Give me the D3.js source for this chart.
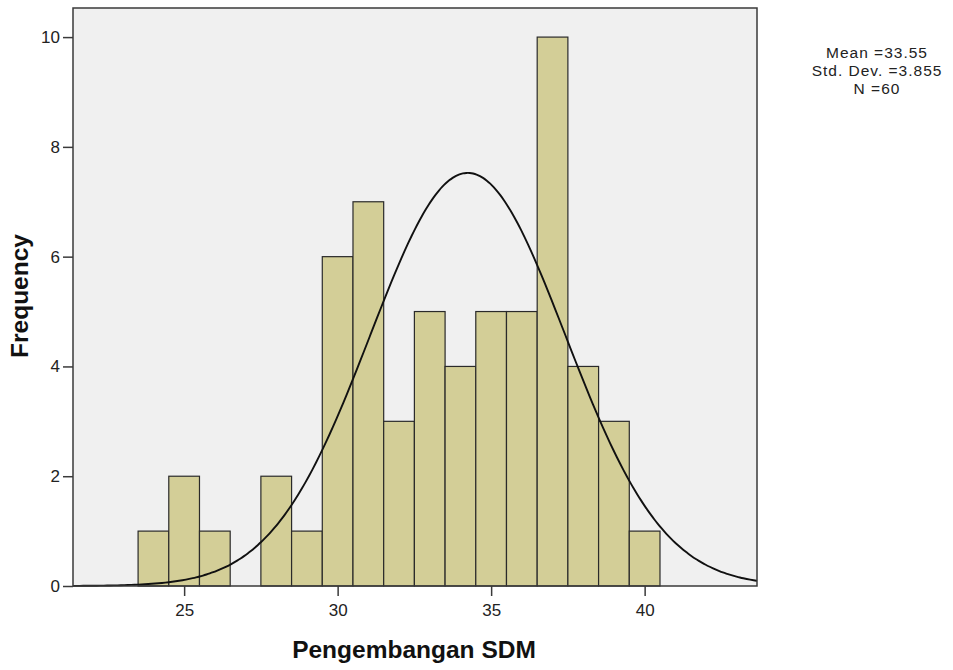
<!DOCTYPE html>
<html>
<head>
<meta charset="UTF-8" />
<script src="https://d3js.org/d3.v7.min.js"></script>
<style>
  body { margin: 0; background: #fff; }
  svg { font-family: "Liberation Sans", Arial, sans-serif; }
</style>
</head>
<body>
<svg width="953" height="670"></svg>
<script>
// histogram bins (bin centres) and frequencies
const binCenters = [24, 25, 26, 27, 28, 29, 30, 31, 32, 33, 34, 35, 36, 37, 38, 39, 40];
const frequencies = [1, 2, 1, 0, 2, 1, 6, 7, 3, 5, 4, 5, 5, 10, 4, 3, 1];
const xTicks = [25, 30, 35, 40];
const yTicks = [0, 2, 4, 6, 8, 10];
const statsLines = ["Mean =33.55", "Std. Dev. =3.855", "N =60"];
// normal curve as drawn in the picture
const curveN = 60, curveMean = 34.24, curveSd = 3.18, binWidth = 1;

const svg = d3.select("svg");
const plotL = 73, plotR = 757, plotT = 8, plotB = 586;

const x = d3.scaleLinear().domain([21.38, 43.66]).range([plotL, plotR]);
const y = d3.scaleLinear().domain([0, 10.53]).range([plotB, plotT]);

// plot background
svg.append("rect")
  .attr("x", plotL).attr("y", plotT)
  .attr("width", plotR - plotL).attr("height", plotB - plotT)
  .attr("fill", "#f0f0f0");

// bars
svg.selectAll(".bar")
  .data(binCenters.map((c, i) => ({ c, f: frequencies[i] })).filter(d => d.f > 0))
  .join("rect")
  .attr("class", "bar")
  .attr("x", d => x(d.c - binWidth / 2))
  .attr("width", d => x(d.c + binWidth / 2) - x(d.c - binWidth / 2))
  .attr("y", d => y(d.f))
  .attr("height", d => y(0) - y(d.f))
  .attr("fill", "#d3ce97")
  .attr("stroke", "#2a2a2a")
  .attr("stroke-width", 1.2);

// normal curve
const xs = d3.range(201).map(i => 21.38 + i * (43.66 - 21.38) / 200);
const dens = v => curveN * binWidth / (curveSd * Math.sqrt(2 * Math.PI)) *
  Math.exp(-0.5 * Math.pow((v - curveMean) / curveSd, 2));
svg.append("path")
  .datum(xs)
  .attr("fill", "none")
  .attr("stroke", "#111")
  .attr("stroke-width", 1.9)
  .attr("d", d3.line().x(v => x(v)).y(v => y(dens(v))).curve(d3.curveBasis));

// frame
svg.append("rect")
  .attr("x", plotL).attr("y", plotT)
  .attr("width", plotR - plotL).attr("height", plotB - plotT)
  .attr("fill", "none")
  .attr("stroke", "#3a3a3a")
  .attr("stroke-width", 1.5);

// axes
const xAxis = svg.append("g")
  .attr("transform", `translate(0,${plotB})`)
  .call(d3.axisBottom(x).tickValues(xTicks).tickSize(10).tickPadding(8));
const yAxis = svg.append("g")
  .attr("transform", `translate(${plotL},0)`)
  .call(d3.axisLeft(y).tickValues(yTicks).tickSize(10).tickPadding(3));
[xAxis, yAxis].forEach(g => {
  g.select(".domain").remove();
  g.selectAll(".tick line").attr("stroke", "#3a3a3a").attr("stroke-width", 1.5);
  g.selectAll(".tick text")
    .attr("fill", "#222")
    .style("font-size", "17px")
    .style("font-family", "'Liberation Sans', Arial, sans-serif");
});

// axis titles
svg.append("text")
  .attr("x", 414).attr("y", 658)
  .attr("text-anchor", "middle")
  .style("font-size", "24.5px").style("font-weight", "bold")
  .attr("fill", "#111")
  .text("Pengembangan SDM");
svg.append("text")
  .attr("transform", "translate(28,296) rotate(-90)")
  .attr("text-anchor", "middle")
  .style("font-size", "24.5px").style("font-weight", "bold")
  .attr("fill", "#111")
  .text("Frequency");

// stats box
svg.append("g")
  .selectAll("text")
  .data(statsLines)
  .join("text")
  .attr("x", 877)
  .attr("y", (d, i) => 58 + i * 18)
  .attr("text-anchor", "middle")
  .style("font-size", "15.5px")
  .style("letter-spacing", "1px")
  .attr("fill", "#222")
  .text(d => d);
</script>
</body>
</html>
